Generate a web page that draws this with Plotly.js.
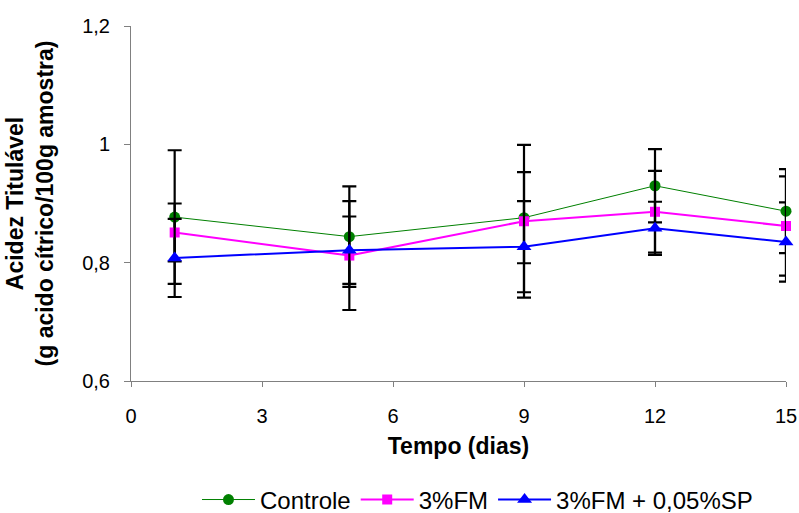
<!DOCTYPE html>
<html><head><meta charset="utf-8">
<script src="https://cdn.plot.ly/plotly-3.0.1.min.js"></script>
<style>body{margin:0;background:#fff}#chart{width:799px;height:513px}</style>
</head><body><div id="chart"></div>
<script>
const days = [1, 5, 9, 12, 15];
const controle = [0.877, 0.844, 0.876, 0.930, 0.887];
const controleErr = [0.113, 0.085, 0.077, 0.062, 0.071];
const fm = [0.851, 0.812, 0.870, 0.886, 0.862];
const fmErr = [0.049, 0.092, 0.129, 0.069, 0.084];
const fmsp = [0.808, 0.821, 0.827, 0.858, 0.835];
const fmspErr = [0.066, 0.057, 0.077, 0.045, 0.067];
const names = ['Controle', '3%FM', '3%FM + 0,05%SP'];

function tr(y, err, name, color, sym, lw, ms) {
  return {
    x: days, y: y, name: name, type: 'scatter', mode: 'lines+markers',
    line: {color: color, width: lw},
    marker: {color: color, symbol: sym, size: ms},
    error_y: {type: 'data', array: err, visible: true, color: '#000', thickness: 2.2, width: 7},
    cliponaxis: false
  };
}
const data = [
  tr(controle, controleErr, names[0], '#008000', 'circle', 1, 11),
  tr(fm, fmErr, names[1], '#ff00ff', 'square', 2, 10),
  tr(fmsp, fmspErr, names[2], '#0000ff', 'triangle-up', 2, 13)
];
const layout = {
  width: 799, height: 513,
  margin: {l: 131, r: 13, t: 26, b: 132, autoexpand: false},
  paper_bgcolor: '#fff', plot_bgcolor: '#fff',
  separators: ',.',
  font: {family: 'Liberation Sans, Arial, sans-serif', color: '#000', size: 20},
  showlegend: true,
  legend: {orientation: 'h', x: 0.529, xanchor: 'center', y: -0.335, yanchor: 'middle',
           traceorder: 'normal', font: {size: 24}, itemwidth: 53},
  xaxis: {range: [0, 15], tickvals: [0, 3, 6, 9, 12, 15], showgrid: false, zeroline: false,
          showline: true, linecolor: '#808080', linewidth: 1, ticks: 'outside', ticklen: 5,
          tickcolor: '#808080', tickfont: {size: 20}, ticklabelstandoff: 12,
          title: {text: '<b>Tempo (dias)</b>', font: {size: 23}, standoff: 11}},
  yaxis: {range: [0.6, 1.2], tickvals: [0.6, 0.8, 1, 1.2], showgrid: false, zeroline: false,
          showline: true, linecolor: '#808080', linewidth: 1, ticks: 'outside', ticklen: 6,
          tickcolor: '#808080', tickfont: {size: 20}, ticklabelstandoff: 10,
          title: {text: '<b>Acidez Titulável<br>(g acido cítrico/100g amostra)</b>', font: {size: 23}, standoff: 22}}
};
Plotly.newPlot('chart', data, layout, {displayModeBar: false});
</script></body></html>
